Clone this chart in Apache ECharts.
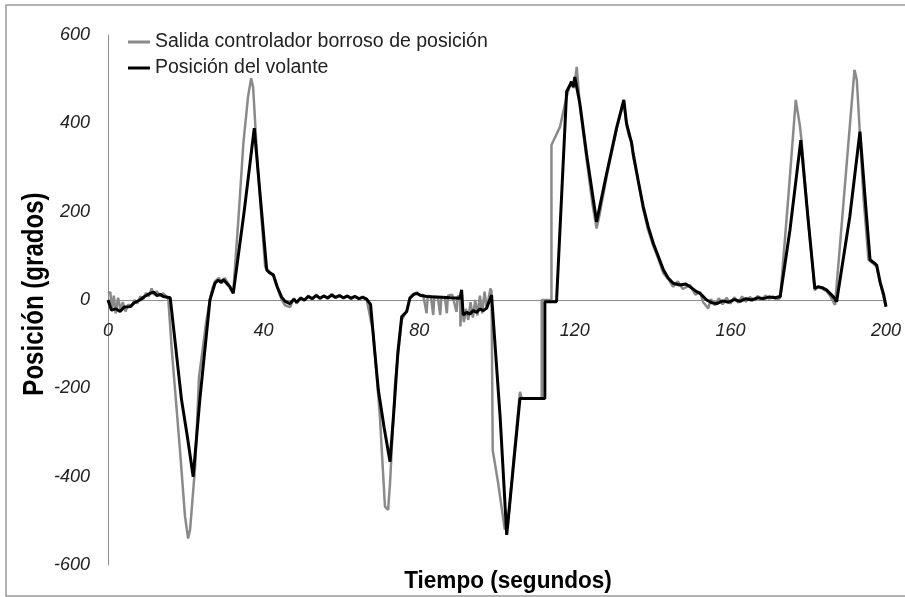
<!DOCTYPE html>
<html>
<head>
<meta charset="utf-8">
<script src="https://cdn.jsdelivr.net/npm/echarts@6/dist/echarts.min.js"></script>
<style>
  html, body { margin: 0; padding: 0; background: #fff; }
  #chart { width: 905px; height: 597px; }
</style>
</head>
<body>
<div id="chart"></div>
<script>
// [tiempo (s), posición (grados)]
var salida = [
  [0, 15], [0.6, 18], [1.0, -25], [1.5, 10], [2.0, -30], [2.6, 5], [3.2, -22], [3.8, -5],
  [4.5, -26], [5.2, -10], [6.0, -16], [6.8, 0], [7.5, -8], [8.3, 8], [9.0, 2], [9.8, 16],
  [10.5, 8], [11.2, 26], [11.8, 12], [12.5, 20], [13.3, 10], [14.2, 15], [15.0, 8], [15.5, 2],
  [16.4, -113], [18.5, -340], [19.8, -490], [20.6, -540], [21.1, -520], [22.4, -377],
  [23.4, -174], [24.1, -128], [25.2, -52], [26.2, 0], [26.8, 25], [27.5, 42], [28.5, 50],
  [29.3, 38], [30.0, 50], [31.0, 36], [32.2, 18], [33.5, 180], [34.8, 355], [36.0, 460],
  [36.8, 502], [37.3, 482], [38.5, 300], [40.4, 75], [41.5, 64], [42.5, 55], [43.5, 28],
  [44.6, 2], [45.5, -12], [46.8, -16], [47.8, 4], [48.5, -8], [49.5, 6], [50.5, -2],
  [51.5, 10], [52.5, 2], [53.5, 12], [54.5, 3], [55.5, 10], [56.5, 3], [57.5, 14], [58.5, 5],
  [59.5, 11], [60.5, 4], [61.5, 10], [62.5, 2], [63.5, 9], [64.5, 2], [65.5, 8], [66.5, 1],
  [67.0, 3], [68.2, -75], [69.9, -264], [71.2, -468], [72.0, -475], [72.5, -415],
  [73.8, -189], [75.5, -45], [76.8, -24], [77.6, 6], [78.5, 14], [79.4, 17], [80.2, 10],
  [81.0, 12], [81.9, -30], [82.2, 10], [83.0, 8], [83.6, -34], [83.9, 8], [84.8, 6],
  [85.4, -34], [85.7, 6], [86.6, 5], [87.1, -30], [87.4, 10], [88.5, 12], [89.6, -27],
  [89.9, 8], [90.5, 10], [90.6, -60], [90.9, -10], [91.5, -50], [92.0, -20], [92.6, -45],
  [93.2, -5], [93.8, -40], [94.4, 0], [95.0, -35], [95.6, 10], [96.2, -30], [96.8, 19],
  [97.4, -20], [98.3, 26], [98.6, 20], [98.9, -340], [100.3, -415], [102.0, -520],
  [102.8, -510], [104.2, -367], [105.9, -208], [106.4, -223], [111.5, -223], [111.5, 0],
  [114.0, 0], [114.0, 351], [116.2, 392], [117.9, 460], [119.0, 495], [119.8, 480],
  [120.5, 528], [121.3, 440], [123.0, 320], [124.5, 220], [125.6, 162], [126.3, 190],
  [128.2, 280], [130.8, 388], [132.6, 450], [133.3, 395], [134.0, 370], [134.6, 360],
  [135.0, 325], [136.2, 275], [137.6, 205], [138.8, 160], [140.2, 122], [141.4, 95],
  [142.8, 60], [144.0, 48], [145.3, 30], [146.5, 42], [147.8, 25], [149.6, 34], [151.0, 12],
  [152.2, 18], [153.0, -5], [154.3, -19], [155.0, 2], [156.0, -12], [157.0, 4], [158.0, -10],
  [159.0, 5], [160.0, -8], [161.0, 6], [162.0, -6], [163.0, 8], [164.0, -4], [165.0, 7],
  [166.0, 0], [167.0, 9], [168.0, 2], [169.0, 10], [170.0, 3], [171.0, 8], [172.0, 0],
  [172.8, 5], [174.9, 234], [176.8, 453], [177.5, 415], [177.9, 392], [178.3, 360],
  [179.9, 190], [181.7, 22], [182.5, 30], [183.5, 26], [184.7, 20], [185.6, 10],
  [186.9, -11], [189.9, 309], [191.9, 521], [192.5, 498], [194.2, 234], [195.5, 91],
  [196.5, 84], [197.6, 76], [198.5, 38], [199.3, 10], [200.0, -15]
];

var volante = [
  [0, 0], [0.9, -23], [2.0, -20], [3.1, -26], [4.2, -16], [5.7, -15], [6.8, -6], [8.2, 0],
  [9.4, 8], [10.8, 15], [11.7, 18], [12.6, 10], [13.4, 13], [14.2, 8], [16.0, 5],
  [18.9, -226], [20.4, -309], [21.9, -400], [23.6, -226], [26.2, 0], [27.5, 38],
  [28.3, 45], [29.0, 40], [29.7, 46], [30.5, 38], [31.3, 30], [32.2, 15], [35.0, 200],
  [37.6, 389], [40.8, 68], [41.5, 62], [42.5, 57], [43.5, 30], [44.6, 7], [45.5, -3],
  [46.8, -8], [47.8, 2], [48.5, -5], [49.5, 4], [50.5, 0], [51.5, 8], [52.5, 3], [53.5, 10],
  [54.5, 4], [55.5, 9], [56.5, 5], [57.5, 11], [58.5, 6], [59.5, 10], [60.5, 5], [61.5, 9],
  [62.5, 4], [63.5, 8], [64.5, 3], [65.5, 6], [66.5, 2], [67.0, 3], [67.5, -10],
  [68.5, -110], [69.5, -204], [71.0, -290], [72.5, -366], [73.5, -250], [74.5, -120],
  [75.5, -38], [76.8, -26], [77.6, 4], [78.5, 12], [79.4, 15], [80.5, 10], [82.0, 8],
  [84.0, 7], [86.0, 6], [88.0, 5], [90.5, 4], [90.9, 23], [91.3, -34], [92.2, -28],
  [93.0, -32], [93.9, -24], [94.8, -28], [95.6, -20], [96.5, -24], [97.3, -19], [98.6, 11],
  [100.8, -264], [102.5, -532], [104.2, -377], [105.9, -223], [112.3, -223], [112.3, -4],
  [115.3, -4], [117.9, 472], [119.2, 494], [119.6, 482], [120.0, 505], [121.3, 445],
  [123.0, 332], [125.6, 177], [128.2, 287], [130.8, 392], [132.6, 453], [133.3, 400],
  [134.6, 355], [135.0, 332], [136.3, 270], [137.6, 211], [138.9, 165], [140.2, 128],
  [141.5, 98], [142.8, 68], [144.0, 50], [145.3, 38], [147.0, 34], [148.5, 36], [149.6, 30],
  [151.3, 19], [152.2, 15], [153.9, 0], [155.2, -6], [156.5, -8], [158.0, -2], [159.5, -5],
  [161.0, 1], [162.5, -3], [164.0, 3], [165.5, 0], [167.0, 5], [168.5, 3], [170.0, 7],
  [171.5, 5], [172.8, 8], [175.3, 158], [178.1, 362], [179.9, 190], [181.7, 26],
  [182.5, 30], [183.6, 28], [184.7, 23], [185.6, 15], [186.5, 7], [187.3, -4], [190.7, 189],
  [193.3, 381], [195.0, 189], [195.9, 91], [196.8, 85], [197.6, 79], [198.5, 40],
  [199.4, 12], [200.0, -15]
];

var nombres = ['Salida controlador borroso de posición', 'Posición del volante'];
var ejeX = 'Tiempo (segundos)';
var ejeY = 'Posición (grados)';

var fuente = "'Liberation Sans', Arial, sans-serif";
var chart = echarts.init(document.getElementById('chart'));

chart.setOption({
  animation: false,
  backgroundColor: '#fff',
  grid: { left: 108, right: 19, top: 35, bottom: 32 },
  legend: {
    orient: 'vertical',
    left: 128,
    top: 32,
    padding: 0,
    itemWidth: 22,
    itemHeight: 3,
    itemGap: 6,
    icon: 'rect',
    textStyle: { fontFamily: fuente, fontSize: 19.5, color: '#222' },
    data: nombres
  },
  xAxis: {
    type: 'value',
    min: 0,
    max: 200,
    interval: 40,
    position: 'bottom',
    offset: -265,
    axisLine: { onZero: false, lineStyle: { color: '#8c8c8c', width: 1 } },
    axisTick: { show: false },
    splitLine: { show: false },
    axisLabel: { margin: 22, fontFamily: fuente, fontSize: 18, fontStyle: 'italic', color: '#222' }
  },
  yAxis: {
    type: 'value',
    min: -600,
    max: 600,
    interval: 200,
    axisLine: { show: true, lineStyle: { color: '#8c8c8c', width: 1 } },
    axisTick: { show: false },
    splitLine: { show: false },
    axisLabel: { margin: 18, fontFamily: fuente, fontSize: 18, fontStyle: 'italic', color: '#222' }
  },
  series: [
    {
      name: nombres[0],
      type: 'line',
      data: salida,
      showSymbol: false,
      color: '#8a8a8a',
      lineStyle: { width: 2.5, color: '#8a8a8a' }
    },
    {
      name: nombres[1],
      type: 'line',
      data: volante,
      showSymbol: false,
      color: '#000',
      lineStyle: { width: 3, color: '#000' }
    }
  ],
  graphic: [
    {
      type: 'rect',
      shape: { x: 6, y: 5, width: 920, height: 591 },
      style: { fill: 'none', stroke: '#999', lineWidth: 1.5 },
      silent: true
    },
    {
      type: 'text',
      x: 35,
      y: 294,
      rotation: Math.PI / 2,
      scaleX: 0.83,
      style: {
        text: ejeY, fontFamily: fuente, fontSize: 29, fontWeight: 'bold', fill: '#000',
        align: 'center', verticalAlign: 'middle'
      }
    },
    {
      type: 'text',
      x: 508,
      y: 581,
      scaleX: 0.94,
      style: {
        text: ejeX, fontFamily: fuente, fontSize: 24, fontWeight: 'bold', fill: '#000',
        align: 'center', verticalAlign: 'middle'
      }
    }
  ]
});
</script>
</body>
</html>
